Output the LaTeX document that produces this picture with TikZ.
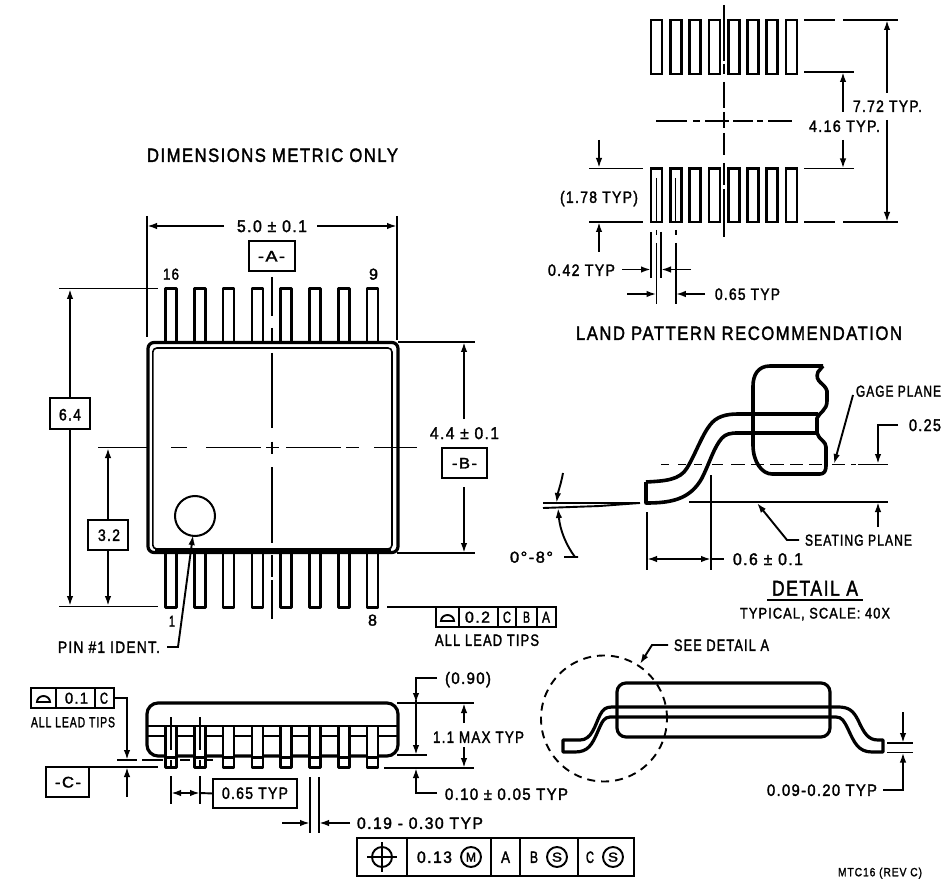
\documentclass[tikz,border=0pt]{standalone}
\usepackage{fontspec}
\usepackage{graphicx}
\usetikzlibrary{arrows.meta}
\newfontfamily\dwg[LetterSpace=9,FakeBold=2]{Liberation Sans}
\newsavebox\tb
\newcommand\fitt[3]{\sbox\tb{\fontsize{#2}{#2}\selectfont\dwg #3}\pgfmathsetmacro\xs{(#1)/\wd\tb}\scalebox{\xs}[1]{\usebox\tb}}
% name, x1, x2, ycenter, size, text
\newcommand\lab[6]{\pgfmathsetmacro\fs{1.13*#5}\node[anchor=base,inner sep=0pt] (#1) at ({(#2+#3)/2},{#4+0.358*\fs}) {\fitt{#3-#2}{\fs}{#6}};}
% name, x1, x2, y1, y2
\newcommand\dbox[5]{\node[dboxst,minimum width={#3-#2},minimum height={#5-#4}] (#1) at ({(#2+#3)/2},{(#4+#5)/2}) {};}
\tikzset{
  x=1pt,y=-1pt,
  thin line/.style={line width=1.9pt},
  dboxst/.style={draw,line width=2pt,inner sep=0pt,outer sep=0pt,fill=white},
  dimarrow/.style={line width=1.9pt,-{Latex[length=10pt,width=6.5pt]}},
  heavy/.style={line width=3.2pt,line join=round},
  medium/.style={line width=2.7pt,line join=round},
  pad/.style={line width=2.7pt},
}
\begin{document}
\begin{tikzpicture}
\useasboundingbox (0,0) rectangle (945,882);

% ---------- texts: titles
\lab{tdim}{147}{398}{155}{17}{DIMENSIONS METRIC ONLY}
\lab{tland}{576}{902}{333}{17}{LAND PATTERN RECOMMENDATION}

% ---------- top view
\foreach \c in {171,199.8,228.6,257.4,286.2,315,343.8,372.6}{
  \draw[medium] (\c-5.5,342) -- (\c-5.5,288.5) -- (\c+5.5,288.5) -- (\c+5.5,342);
  \draw[medium] (\c-5.5,553) -- (\c-5.5,607.5) -- (\c+5.5,607.5) -- (\c+5.5,553);
}
\draw[heavy,fill=white,rounded corners=6pt] (148,342.5) rectangle (398,552.5);
\draw[line width=1.6pt,rounded corners=4pt] (152.8,348) rectangle (392,549);
\draw[line width=5pt] (155,551) -- (391,551);

% centre lines top view
\foreach \a/\b in {277/316,328/341,353/428,441.5/454,467/543,555/577,580/619}
  \draw[thin line] (272,\a) -- (272,\b);
\foreach \a/\b in {98/147,171/187,206/261,266/279,286/341,346/359,374/417}
  \draw[thin line] (\a,447.5) -- (\b,447.5);

% 5.0 dim
\lab{t50}{237}{307}{226}{15}{5.0 ± 0.1}
\draw[thin line] (147,216) -- (147,337);
\draw[thin line] (397,216) -- (397,340);
\draw[dimarrow] (224,226) -- (147,226);
\draw[dimarrow] (317,226) -- (397,226);
\dbox{bA}{249}{295}{241}{271}
\lab{tA}{258}{285}{256}{13.5}{-A-}
\lab{t16}{163}{179}{274}{14}{16}
\lab{t9}{369}{378}{274}{14}{9}
\lab{t8}{368}{377}{620}{14}{8}
\lab{t1}{169}{175}{621}{14}{1}

% 6.4 dim
\draw[thin line] (59,288.5) -- (158,288.5);
\draw[thin line] (59,606.5) -- (158,606.5);
\dbox{b64}{50}{90}{398}{429}
\lab{t64}{59}{81}{414.5}{14.5}{6.4}
\draw[dimarrow] (b64.north) -- (70,289);
\draw[dimarrow] (b64.south) -- (70,606);
% 3.2 dim
\dbox{b32}{88}{128}{520}{550}
\lab{t32}{98}{120}{535}{14.5}{3.2}
\draw[dimarrow] (b32.north) -- (108,448);
\draw[dimarrow] (b32.south) -- (108,606);

% pin 1
\node[draw,circle,line width=2pt,minimum size=40pt,inner sep=0pt,outer sep=0pt] (pin) at (195,516) {};
\lab{tpin}{58}{160}{647}{14.5}{PIN \#1 IDENT.}
\coordinate (pinL) at (178,647);
\draw[dimarrow] (167,647) -- (pinL) -- (193,535);

% 4.4 dim
\draw[thin line] (398,342) -- (475,342);
\draw[thin line] (397,553) -- (475,553);
\lab{t44}{430}{499}{433}{15}{4.4 ± 0.1}
\dbox{bB}{442}{487}{448}{478}
\lab{tB}{452}{477}{463}{13.5}{-B-}
\draw[dimarrow] (464,419) -- (464,342);
\draw[dimarrow] (464,487) -- (464,553);

% tolerance box right of top view
\draw[thin line] (387,607) -- (436,607);
\dbox{bt1}{436}{459}{607}{627}
\dbox{bt2}{459}{498}{607}{627}
\dbox{bt3}{498}{516}{607}{627}
\dbox{bt4}{516}{537}{607}{627}
\dbox{bt5}{537}{556}{607}{627}
\draw[line width=1.9pt] (441,621) -- (454,621) arc[start angle=0,end angle=-180,x radius=6.5,y radius=6] -- cycle;
\lab{t02}{465}{490}{617}{14}{0.2}
\lab{tC1}{503}{511}{617}{14}{C}
\lab{tB1}{523}{530}{617}{14}{B}
\lab{tA1}{542}{550}{617}{14}{A}
\lab{tallr}{435}{539}{640}{14.5}{ALL LEAD TIPS}

% ---------- land pattern
\foreach \i in {0,...,7}{
  \pgfmathsetmacro\c{656.5+19.3*\i}
  \draw[pad] (\c-5.5,20) rectangle (\c+5.5,74);
  \draw[pad] (\c-5.5,168.5) rectangle (\c+5.5,222);
}
\foreach \a/\b in {5/61,64/74,82/108,112/128,133/155,163/185,189/237}
  \draw[thin line] (724,\a) -- (724,\b);
\foreach \a/\b in {656/687,693/700,705/718,718/729,733/753,757/763,768/792}
  \draw[thin line] (\a,121) -- (\b,121);
% right extension lines
\foreach \a/\b in {804/835,843/898} { \draw[thin line] (\a,20) -- (\b,20); \draw[thin line] (\a,222) -- (\b,222); }
\draw[thin line] (804,72) -- (854,72);
\draw[thin line] (804,168.5) -- (854,168.5);
\lab{t772}{853}{922}{106}{14.5}{7.72 TYP.}
\lab{t416}{809}{880}{126}{14.5}{4.16 TYP.}
\draw[dimarrow] (887,93) -- (887,20);
\draw[dimarrow] (887,120) -- (887,222);
\draw[dimarrow] (843,112) -- (843,72);
\draw[dimarrow] (843,140) -- (843,168.5);
% left
\draw[thin line] (589,168.5) -- (643,168.5);
\draw[thin line] (589,222) -- (643,222);
\lab{t178}{560}{638}{197}{14.5}{(1.78 TYP)}
\draw[dimarrow] (599,140) -- (599,168);
\draw[dimarrow] (599,252) -- (599,222);
% pad centre lines
\draw[line width=1.3pt] (656.5,178) -- (656.5,222);
\draw[line width=1.3pt] (675.8,178) -- (675.8,222);
\foreach \x in {656.5,675.8} {
  \draw[thin line] (\x,230) -- (\x,235);
  \draw[thin line] (\x,243) -- (\x,304);
}
\draw[thin line] (651,232) -- (651,278);
\draw[thin line] (661,232) -- (661,278);
\lab{t042}{548}{615}{270}{14.5}{0.42 TYP}
\lab{t065a}{715}{780}{294}{14.5}{0.65 TYP}
\draw[dimarrow] (622,269.5) -- (651,269.5);
\draw[dimarrow] (691,269.5) -- (661,269.5);
\draw[dimarrow] (627,294) -- (656.5,294);
\draw[dimarrow] (705,294) -- (675.8,294);

% ---------- Detail A
\draw[line width=3.6pt,line join=round] (823,366) -- (770,366) .. controls (758,366) and (753,375) .. (753,386)
  -- (753,445) .. controls (753,462) and (762,474) .. (772,474) -- (820,474)
  .. controls (824,474) and (826,471) .. (826,466) -- (826,447) .. controls (826,441) and (819,440) .. (817,433)
  -- (817,418) .. controls (820,412) and (827,410) .. (827,401) -- (827,391)
  .. controls (825,383) and (814,382) .. (818,372) -- (823,366);
\draw[line width=3.6pt,line join=round] (646,482) -- (646,503) .. controls (670,503) and (690,500) .. (702,478)
  .. controls (710,462) and (714,447) .. (722,438) .. controls (726,434) and (730,433) .. (738,433) -- (817,433);
\draw[line width=3.6pt,line join=round] (646,482) .. controls (665,481) and (680,480) .. (687,468)
  .. controls (695,455) and (702,435) .. (710,425) .. controls (716,417) and (725,414) .. (738,414) -- (818,414);
\foreach \a/\b in {661/669,678/686,694/702,712/723,731/745,751/764,770/784,790/803,809/822,832/845,851/856,858/888}
  \draw[thin line] (\a,464.5) -- (\b,464.5);
\draw[thin line] (689,502) -- (888,502);
\draw[thin line] (647,512) -- (647,570);
\draw[thin line] (711,475) -- (711,570);
\lab{t06}{733}{803}{559}{15}{0.6 ± 0.1}
\draw[dimarrow] (679,559) -- (647,559);
\draw[dimarrow] (679,559) -- (711,559);
\draw[thin line] (711,559) -- (724,559);
\lab{tgage}{856}{941}{391}{14}{GAGE PLANE}
\lab{t025}{909}{941}{425}{15}{0.25}
\lab{tseat}{805}{912}{540}{14}{SEATING PLANE}
\draw[dimarrow] (853,395) -- (834,464);
\draw[dimarrow] (898,425) -- (878,425) -- (878,464);
\draw[dimarrow] (878,527) -- (878,502);
\draw[dimarrow] (799,540) -- (787,540) -- (757,503);
% angle
\draw[thin line] (543,503) -- (640,503);
\draw[thin line] (543,508) -- (600,506) -- (640,503);
\draw[dimarrow] (563,473) .. controls (561,484) and (558,492) .. (556.5,503);
\draw[dimarrow] (578,557) -- (575,557) .. controls (566,545) and (560,530) .. (558,508);
\lab{t08}{510}{553}{557}{14}{0°-8°}
\draw[thin line] (564,557) -- (578,557);
\lab{tdet}{772}{858}{588}{19}{DETAIL A}
\draw[thin line] (767,600) -- (863,600);
\lab{ttyp}{740}{890}{613}{13.5}{TYPICAL, SCALE: 40X}

% ---------- side view
\draw[heavy,rounded corners=11pt] (147,703) rectangle (398,756);
\draw[line width=2.8pt] (148,726) -- (397,726);
\draw[line width=2.8pt] (148,736) -- (397,736);
\foreach \c in {171,199.8,228.6,257.4,286.2,315,343.8,372.6}{
  \fill[white] (\c-5.5,727) rectangle (\c+5.5,767);
  \draw[medium] (\c-5.5,726) -- (\c-5.5,767.5) -- (\c+5.5,767.5) -- (\c+5.5,726);
  \draw[line width=3pt] (\c-5.5,757) -- (\c+5.5,757);
}
\foreach \x in {171,199.8} {
  \draw[line width=1.5pt] (\x,717) -- (\x,750);
  \draw[line width=1.5pt] (\x,760) -- (\x,766);
}
\foreach \a/\b in {117/137,142/163,180/190,205/213}
  \draw[thin line] (\a,760) -- (\b,760);

\dbox{bl1}{31}{56}{688}{708}
\dbox{bl2}{56}{95}{688}{708}
\dbox{bl3}{95}{114}{688}{708}
\draw[line width=1.9pt] (37,702) -- (50,702) arc[start angle=0,end angle=-180,x radius=6.5,y radius=6] -- cycle;
\lab{t01}{65}{88}{698}{14}{0.1}
\lab{tC2}{100}{108}{698}{14}{C}
\lab{talll}{31}{115}{722}{13}{ALL LEAD TIPS}
\draw[dimarrow] (bl3.east) -- (127,698) -- (127,760);
\dbox{bC}{46}{89}{767}{797}
\lab{tCc}{55}{81}{782}{13.5}{-C-}
\draw[thin line] (bC.north east) -- (158,767);
\draw[dimarrow] (127,797) -- (127,767);

% 0.65 box
\draw[thin line] (171,776) -- (171,804);
\draw[thin line] (200,776) -- (200,804);
\dbox{b065}{213}{297}{779}{808}
\lab{t065}{222}{288}{793}{14.5}{0.65 TYP}
\draw[thin line] (200,793) -- (b065.west);
\draw[dimarrow] (186,793) -- (171,793);
\draw[dimarrow] (185,793) -- (200,793);
% 0.19
\draw[thin line] (310,777) -- (310,833);
\draw[thin line] (319,777) -- (319,833);
\lab{t019}{357}{483}{823}{14.5}{0.19 - 0.30 TYP}
\draw[dimarrow] (282,823) -- (310,823);
\draw[dimarrow] (350,823) -- (319,823);
% right of side view
\draw[thin line] (397,703) -- (474,703);
\draw[thin line] (397,755) -- (427,755);
\draw[thin line] (384,768) -- (474,768);
\lab{t090}{445}{491}{678}{14.5}{(0.90)}
\lab{t11}{433}{524}{737}{14.5}{1.1 MAX TYP}
\lab{t010}{445}{568}{794}{14.5}{0.10 ± 0.05 TYP}
\draw[dimarrow] (437,678) -- (416,678) -- (416,703);
\draw[dimarrow] (416,700) -- (416,755);
\draw[dimarrow] (437,793) -- (416,793) -- (416,768);
\draw[dimarrow] (464,723) -- (464,703);
\draw[dimarrow] (464,747) -- (464,768);

% feature control frame
\dbox{f1}{357}{407}{838}{876}
\dbox{f2}{407}{491}{838}{876}
\dbox{f3}{491}{520}{838}{876}
\dbox{f4}{520}{578}{838}{876}
\dbox{f5}{578}{634}{838}{876}
\node[draw,circle,line width=1.9pt,minimum size=20pt,inner sep=0pt] (fc) at (382,857) {};
\draw[thin line] (367,857) -- (397,857);
\draw[thin line] (382,842) -- (382,872);
\lab{t013}{417}{452}{857}{14.5}{0.13}
\node[draw,circle,line width=1.9pt,minimum size=20pt,inner sep=0pt] (cM) at (471,857) {};
\lab{tM}{466}{476}{857}{11.5}{M}
\lab{tAf}{501}{510}{857}{14.5}{A}
\lab{tBf}{530}{538}{857}{14.5}{B}
\node[draw,circle,line width=1.9pt,minimum size=20pt,inner sep=0pt] (cS1) at (557,857) {};
\lab{tS1}{552}{562}{857}{11.5}{S}
\lab{tCf}{586}{594}{857}{14.5}{C}
\node[draw,circle,line width=1.9pt,minimum size=20pt,inner sep=0pt] (cS2) at (613,857) {};
\lab{tS2}{608}{618}{857}{11.5}{S}

% ---------- right side view
\draw[heavy,rounded corners=9pt] (617,683) rectangle (830,737);
\draw[heavy] (563,740) -- (580,740) .. controls (592,740) and (595,725) .. (600,715) .. controls (603,709) and (606,707) .. (612,707) -- (838,707)
  .. controls (848,707) and (853,710) .. (858,720) .. controls (864,733) and (868,740) .. (878,740) -- (883,740) -- (883,752)
  -- (872,752) .. controls (858,752) and (854,742) .. (848,729) .. controls (844,721) and (842,717) .. (836,717) -- (610,717)
  .. controls (604,717) and (602,722) .. (598,731) .. controls (592,745) and (588,752) .. (575,752) -- (563,752) -- cycle;
\node[draw,circle,dashed,dash pattern=on 8pt off 6pt,line width=1.9pt,minimum size=126pt,inner sep=0pt,outer sep=0pt] (detc) at (604,718.5) {};
\lab{tsee}{674}{769}{645}{14.5}{SEE DETAIL A}
\draw[dimarrow] (668,645) -- (652,645) -- (640,664);
\draw[thin line] (887,743) -- (913,743);
\draw[thin line] (887,752.5) -- (913,752.5);
\draw[dimarrow] (903,712) -- (903,743);
\lab{t009}{767}{877}{790}{14.5}{0.09-0.20 TYP}
\draw[dimarrow] (883,790) -- (903,790) -- (903,752.5);
\lab{tmtc}{838}{922}{872}{10.5}{MTC16 (REV C)}
\end{tikzpicture}
\end{document}
